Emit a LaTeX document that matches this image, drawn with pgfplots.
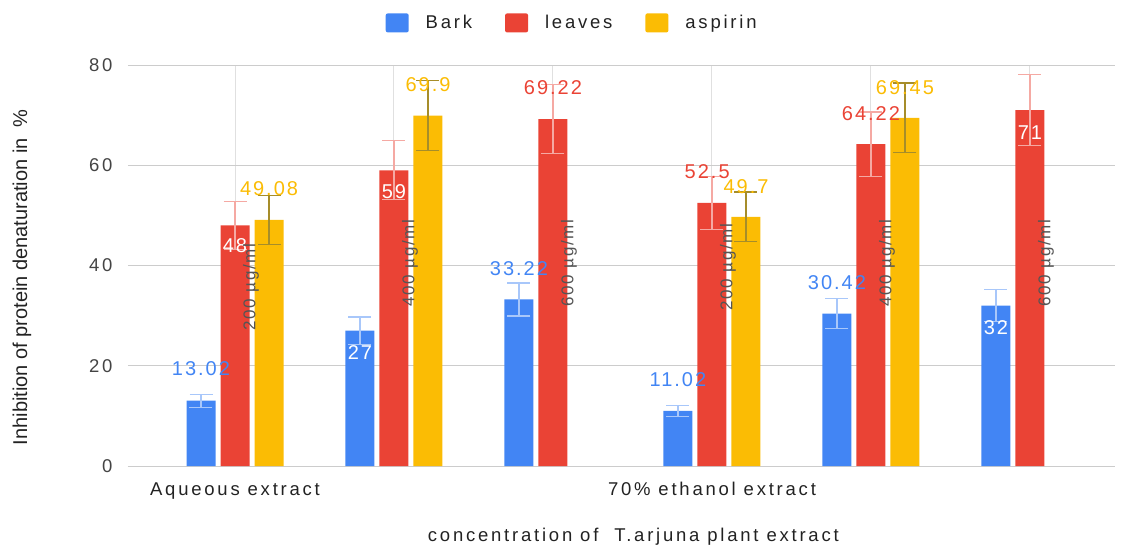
\documentclass[border=0pt]{standalone}
\usepackage{fontspec}
\setmainfont{Liberation Sans}[LetterSpace=10]
\newfontfamily\plainfont{Liberation Sans}
\newfontfamily\widefont{Liberation Sans}[LetterSpace=15]
\usepackage{pgfplots}
\pgfplotsset{compat=1.18}
\usepackage{pgfplotstable}
\definecolor{bark}{HTML}{4285F4}
\definecolor{leaves}{HTML}{EA4335}
\definecolor{aspirin}{HTML}{FBBC04}
\definecolor{barkerr}{HTML}{A8C7FA}
\definecolor{leaveserr}{HTML}{F5A9A3}
\definecolor{aspirinerr}{HTML}{A68D2A}
\definecolor{txt}{HTML}{444444}
\definecolor{titletxt}{HTML}{222222}
\definecolor{gridc}{HTML}{CCCCCC}
\definecolor{rotgray}{HTML}{555555}
\tikzset{
  lab/.style={font=\fontsize{20}{22}\selectfont, inner sep=0pt},
  rot/.style={font=\fontsize{17}{19}\selectfont, inner sep=0pt, rotate=90, text=rotgray},
}

\pgfplotstableread{
x y e
0 13.02 1.30
1 27 2.70
2 33.22 3.32
3 11.02 1.10
4 30.42 3.04
5 32 3.20
}\barktab
\pgfplotstableread{
x y e
0 48 4.80
1 59 5.90
2 69.22 6.92
3 52.5 5.25
4 64.22 6.42
5 71 7.10
}\leavestab
\pgfplotstableread{
x y e
0 49.08 4.91
1 69.9 6.99
3 49.7 4.97
4 69.45 6.95
}\aspirintab

\begin{document}
\begin{tikzpicture}
\begin{axis}[
  scale only axis, width=987pt, height=401pt,
  xmin=-0.673, xmax=5.535, ymin=0, ymax=80,
  ytick={0,20,...,80}, xtick={0,...,5},
  xticklabels={Aqueous extract,,,70\% ethanol extract,,},
  ymajorgrids, xmajorgrids,
  y grid style={gridc, line width=1pt},
  x grid style={gridc!60, line width=1pt},
  major tick length=0pt,
  axis line style={draw=none},
  extra y ticks={0}, extra y tick labels={},
  extra y tick style={grid style={black!70, line width=1.3pt}},
  /pgf/number format/assume math mode=true,
  tick label style={font=\fontsize{18}{20}\selectfont, text=txt},
  yticklabel style={xshift=-12pt, font=\widefont\fontsize{18.5}{20}\selectfont},
  xticklabel style={yshift=-13pt, font=\widefont\fontsize{18.5}{20}\selectfont, text=titletxt},
  ylabel={Inhibition of protein denaturation in~ \%},
  ylabel style={at={(rel axis cs:0,0.471)}, yshift=106pt, anchor=center,
    font=\plainfont\fontsize{20}{22}\selectfont, text=titletxt},
  xlabel={concentration of~ T.arjuna plant extract},
  xlabel style={at={(rel axis cs:0.512,0)}, yshift=-71pt, anchor=center,
    font=\widefont\fontsize{18.5}{21}\selectfont, text=titletxt},
  ybar, bar width=29pt,
  clip=false,
  legend style={draw=none, fill=none, legend columns=3,
    at={(rel axis cs:0.45,1.105)}, anchor=center,
    font=\widefont\fontsize{18.5}{20}\selectfont, text=titletxt,
    /tikz/every odd column/.append style={column sep=15pt},
    /tikz/every even column/.append style={column sep=31pt}},
]
\addplot[fill=bark, draw=none, bar shift=-34pt,
  legend image code/.code={\fill[bark, rounded corners=2pt] (0pt,-9.5pt) rectangle (23pt,9.5pt);},
  error bars/.cd, y dir=both, y explicit,
  error bar style={barkerr, line width=1.3pt},
  error mark options={rotate=90, barkerr, mark size=11.5pt, line width=1.3pt}]
  table[x=x, y=y, y error=e] {\barktab};
\addlegendentry{Bark}
\addplot[fill=leaves, draw=none, bar shift=0pt,
  legend image code/.code={\fill[leaves, rounded corners=2pt] (0pt,-9.5pt) rectangle (23pt,9.5pt);},
  error bars/.cd, y dir=both, y explicit,
  error bar style={leaveserr, line width=1.3pt},
  error mark options={rotate=90, leaveserr, mark size=11.5pt, line width=1.3pt}]
  table[x=x, y=y, y error=e] {\leavestab};
\addlegendentry{leaves}
\addplot[fill=aspirin, draw=none, bar shift=34pt,
  legend image code/.code={\fill[aspirin, rounded corners=2pt] (0pt,-9.5pt) rectangle (23pt,9.5pt);},
  error bars/.cd, y dir=both, y explicit,
  error bar style={aspirinerr, line width=1.3pt},
  error mark options={rotate=90, aspirinerr, mark size=11.5pt, line width=1.3pt}]
  table[x=x, y=y, y error=e] {\aspirintab};
\addlegendentry{aspirin}

% data labels
\node[lab, text=bark] at (axis cs:-0.214,19.35) {13.02};
\node[lab, text=white] at (axis cs:0,43.9) {48};
\node[lab, text=aspirin] at (axis cs:0.214,55.3) {49.08};
\node[lab, text=white] at (axis cs:0.786,22.7) {27};
\node[lab, text=white] at (axis cs:1,54.7) {59};
\node[lab, text=aspirin] at (axis cs:1.214,76) {69.9};
\node[lab, text=bark] at (axis cs:1.786,39.3) {33.22};
\node[lab, text=leaves] at (axis cs:2,75.4) {69.22};
\node[lab, text=bark] at (axis cs:2.786,17.2) {11.02};
\node[lab, text=leaves] at (axis cs:2.97,58.7) {52.5};
\node[lab, text=aspirin] at (axis cs:3.214,55.7) {49.7};
\node[lab, text=bark] at (axis cs:3.786,36.5) {30.42};
\node[lab, text=leaves] at (axis cs:4,70.4) {64.22};
\node[lab, text=aspirin] at (axis cs:4.214,75.4) {69.45};
\node[lab, text=white] at (axis cs:4.786,27.7) {32};
\node[lab, text=white] at (axis cs:5,66.6) {71};
% concentration labels
\node[rot] at (axis cs:0.1,35.7) {200 µg/ml};
\node[rot] at (axis cs:1.1,40.5) {400 µg/ml};
\node[rot] at (axis cs:2.1,40.5) {600 µg/ml};
\node[rot] at (axis cs:3.1,39.7) {200 µg/ml};
\node[rot] at (axis cs:4.1,40.5) {400 µg/ml};
\node[rot] at (axis cs:5.1,40.5) {600 µg/ml};
\coordinate (O) at (rel axis cs:0,0);
\end{axis}
\pgfresetboundingbox
\path (O) ++(-128pt,-81pt) rectangle ++(1126pt,547pt);
\end{tikzpicture}
\end{document}
